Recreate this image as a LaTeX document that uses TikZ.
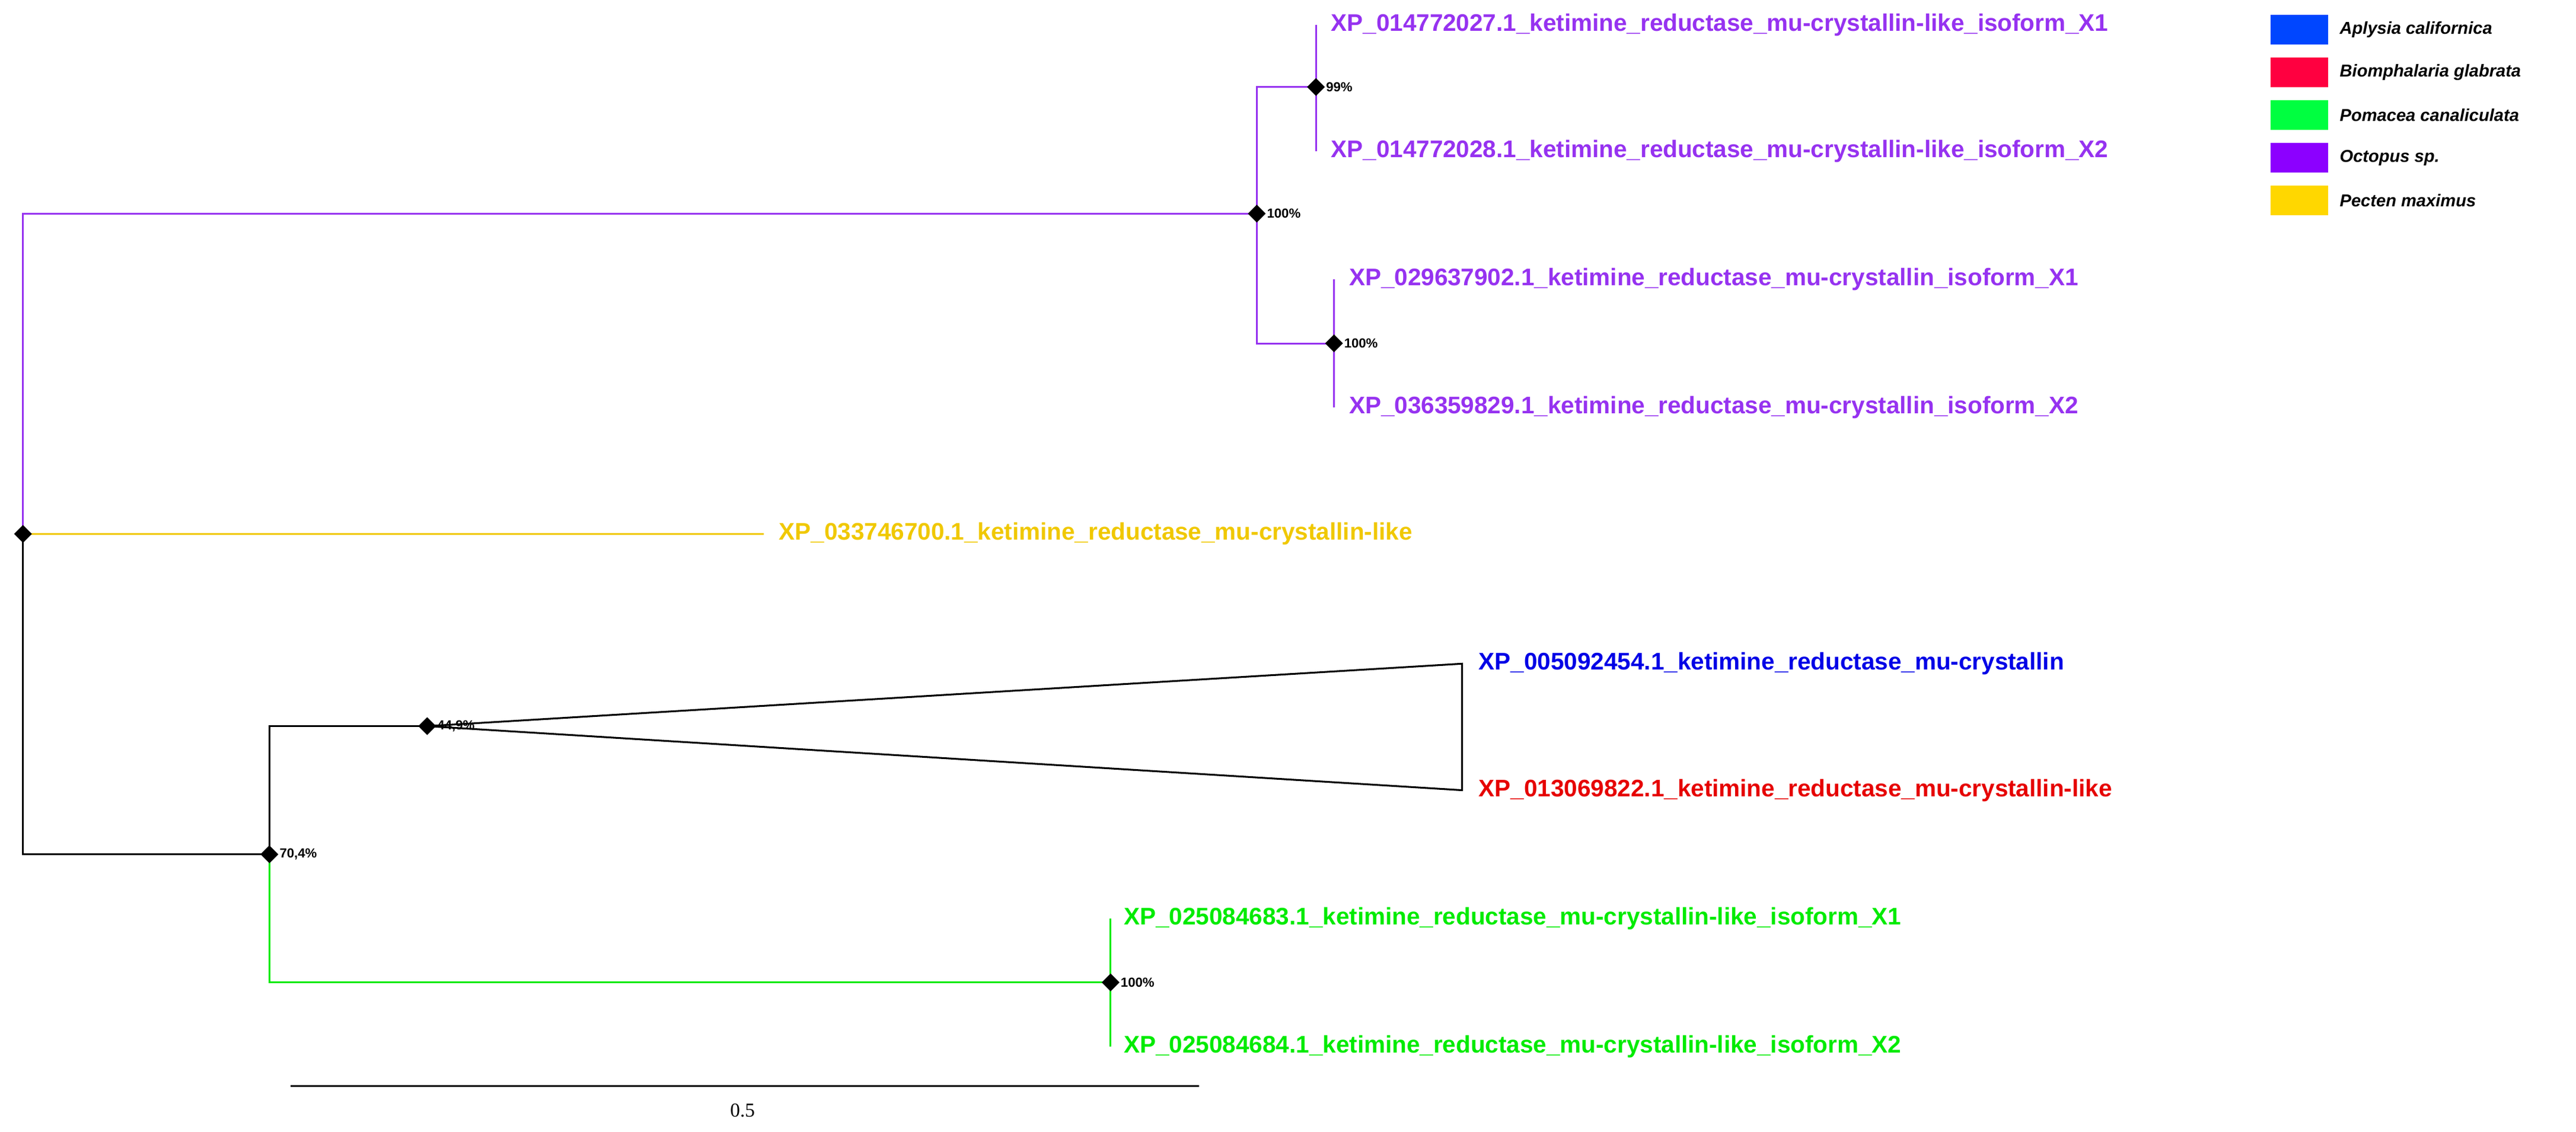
\documentclass[tikz,border=0pt]{standalone}
\usepackage{fontspec}
\setmainfont{Liberation Sans}
\usetikzlibrary{shapes.geometric}
\definecolor{octo}{RGB}{150,50,240}
\definecolor{pect}{RGB}{240,200,0}
\definecolor{aply}{RGB}{0,0,230}
\definecolor{biom}{RGB}{230,0,0}
\definecolor{poma}{RGB}{0,235,0}
\tikzset{
  nd/.style={diamond,fill=black,inner sep=0pt,minimum size=11pt},
  leaf/.style={anchor=west,inner sep=0pt,font=\bfseries\fontsize{14.6}{17}\selectfont},
  pct/.style={anchor=west,inner sep=0pt,xshift=6pt,font=\bfseries\fontsize{8}{9}\selectfont},
  key/.style={anchor=west,inner sep=0pt,font=\bfseries\itshape\fontsize{10.5}{13}\selectfont},
  br/.style={line width=1.1pt}
}
\begin{document}
\begin{tikzpicture}[x=1pt,y=-1pt]
\useasboundingbox (0,0) rectangle (1568,689);

%nodes
\coordinate (root) at (14,325);
\coordinate (octo) at (765,130);
\coordinate (o1) at (801,53);
\coordinate (o2) at (812,209);
\coordinate (low) at (164,520);
\coordinate (col) at (260,442);
\coordinate (green) at (676,598);
\coordinate (tipa) at (890,404);
\coordinate (tipb) at (890,481);

%leaves
\node[leaf,text=octo] (l1) at (810,15) {XP\_014772027.1\_ketimine\_reductase\_mu-crystallin-like\_isoform\_X1};
\node[leaf,text=octo] (l2) at (810,92) {XP\_014772028.1\_ketimine\_reductase\_mu-crystallin-like\_isoform\_X2};
\node[leaf,text=octo] (l3) at (821,170) {XP\_029637902.1\_ketimine\_reductase\_mu-crystallin\_isoform\_X1};
\node[leaf,text=octo] (l4) at (821,248) {XP\_036359829.1\_ketimine\_reductase\_mu-crystallin\_isoform\_X2};
\node[leaf,text=pect] (l5) at (474,325) {XP\_033746700.1\_ketimine\_reductase\_mu-crystallin-like};
\node[leaf,text=aply] (l6) at (900,404) {XP\_005092454.1\_ketimine\_reductase\_mu-crystallin};
\node[leaf,text=biom] (l7) at (900,481) {XP\_013069822.1\_ketimine\_reductase\_mu-crystallin-like};
\node[leaf,text=poma] (l8) at (684,559) {XP\_025084683.1\_ketimine\_reductase\_mu-crystallin-like\_isoform\_X1};
\node[leaf,text=poma] (l9) at (684,637) {XP\_025084684.1\_ketimine\_reductase\_mu-crystallin-like\_isoform\_X2};

%branches
\draw[br,octo] (root) |- (octo);
\draw[br,octo] (o1) -| (octo) |- (o2);
\draw[br,octo] (o1 |- l1) -- (o1 |- l2);
\draw[br,octo] (o2 |- l3) -- (o2 |- l4);
\draw[br,pect] (root) -- (465,325);
\draw[br] (root) |- (low);
\draw[br] (low) |- (col);
\draw[br] (col) -- (tipa) -- (tipb) -- cycle;
\draw[br,poma] (low) |- (green);
\draw[br,poma] (green |- l8) -- (green |- l9);

%support
\foreach \n/\v in {root/,octo/100\%,o1/99\%,o2/100\%,low/{70,4\%},col/{44,9\%},green/100\%}{
  \node[nd] (d\n) at (\n) {};
  \node[pct] at (\n) {\v};
}

%scale bar
\coordinate (s0) at (177,661);
\coordinate (s1) at (730,661);
\draw[line width=1pt] (s0) -- (s1);
\node[font=\fontspec{Liberation Serif}\fontsize{12}{14}\selectfont] (sl) at (452,676) {0.5};

%legend
\foreach \c/\t [count=\i from 0] in {{0,70,255}/Aplysia californica,{255,0,64}/Biomphalaria glabrata,{0,255,64}/Pomacea canaliculata,{140,0,255}/Octopus sp.,{255,215,0}/Pecten maximus}{
  \definecolor{kc}{RGB}{\c}
  \fill[kc] (1382,9+26*\i) rectangle (1417,27+26*\i);
  \node[key] at (1424,18+26*\i) {\t};
}
\end{tikzpicture}
\end{document}
